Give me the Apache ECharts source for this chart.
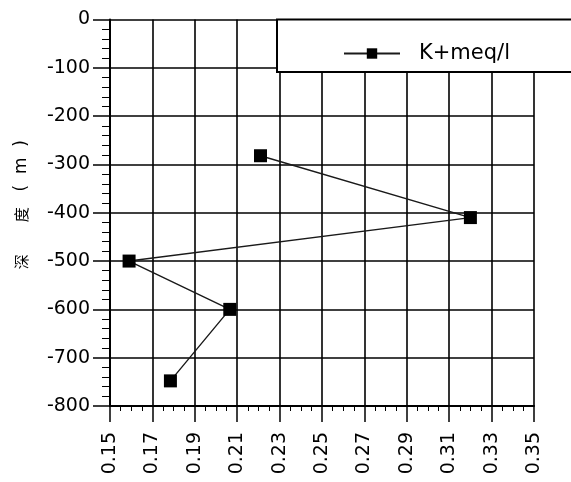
<!DOCTYPE html>
<html>
<head>
<meta charset="utf-8">
<script src="https://cdn.jsdelivr.net/npm/echarts@6/dist/echarts.min.js"></script>
<style>
  html, body { margin: 0; padding: 0; background: #fff; }
  #chart { width: 571px; height: 482px; }
</style>
</head>
<body>
<div id="chart"></div>
<script>
// K+ concentration (meq/l) against depth (m)
const seriesName = 'K+meq/l';
const kValues = [0.221, 0.320, 0.159, 0.2065, 0.1785];
const depths = [-282, -410, -500, -600, -748];

const points = kValues.map((k, i) => [k, depths[i]]);

const FONT = 'DejaVu Sans';
const CJK = 'Noto Sans CJK SC';
const chart = echarts.init(document.getElementById('chart'), null, { renderer: 'canvas' });

chart.setOption({
  animation: false,
  backgroundColor: '#fff',
  grid: { left: 110, right: 37, top: 19.5, bottom: 76, containLabel: false },
  legend: {
    data: [seriesName],
    left: 338,
    top: 38,
    z: 10,
    itemWidth: 56,
    itemHeight: 13,
    textStyle: { fontFamily: FONT, fontSize: 21, color: '#000', padding: [0, 0, 0, 14] }
  },
  xAxis: {
    type: 'value',
    min: 0.15,
    max: 0.35,
    interval: 0.02,
    axisLine: { show: true, onZero: false, lineStyle: { color: '#000', width: 2 } },
    axisTick: { show: true, length: 16, lineStyle: { color: '#000', width: 1.5 } },
    minorTick: { show: true, splitNumber: 4, length: 5, lineStyle: { color: '#000', width: 1 } },
    splitLine: { show: true, lineStyle: { color: '#000', width: 1.6 } },
    axisLabel: {
      rotate: 90,
      margin: 26,
      color: '#000',
      fontFamily: FONT,
      fontSize: 19,
      formatter: v => v.toFixed(2)
    }
  },
  yAxis: {
    type: 'value',
    min: -800,
    max: 0,
    interval: 100,
    name: '{a|深}{b|度}{c|(  m  )}',
    nameLocation: 'middle',
    nameGap: 80,
    nameTextStyle: {
      color: '#000',
      fontFamily: CJK,
      fontSize: 15,
      rich: {
        a: { width: 50, align: 'center', fontSize: 15, fontFamily: CJK, color: '#000' },
        b: { width: 44, align: 'center', fontSize: 15, fontFamily: CJK, color: '#000' },
        c: { width: 54, align: 'left', fontSize: 17, fontFamily: FONT, color: '#000' }
      }
    },
    axisLine: { show: true, onZero: false, lineStyle: { color: '#000', width: 2 } },
    axisTick: { show: true, length: 17, lineStyle: { color: '#000', width: 1.5 } },
    minorTick: { show: true, splitNumber: 5, length: 8, lineStyle: { color: '#000', width: 1 } },
    splitLine: { show: true, lineStyle: { color: '#000', width: 1.6 } },
    axisLabel: { margin: 20, color: '#000', fontFamily: FONT, fontSize: 19 }
  },
  graphic: [{
    type: 'rect',
    z: 5,
    shape: { x: 277, y: 19.5, width: 320, height: 52.5 },
    style: { fill: '#fff', stroke: '#000', lineWidth: 2 }
  }],
  series: [{
    name: seriesName,
    type: 'line',
    data: points,
    symbol: 'rect',
    symbolSize: 13,
    itemStyle: { color: '#000' },
    lineStyle: { color: '#1a1a1a', width: 1.4 }
  }]
});
</script>
</body>
</html>
